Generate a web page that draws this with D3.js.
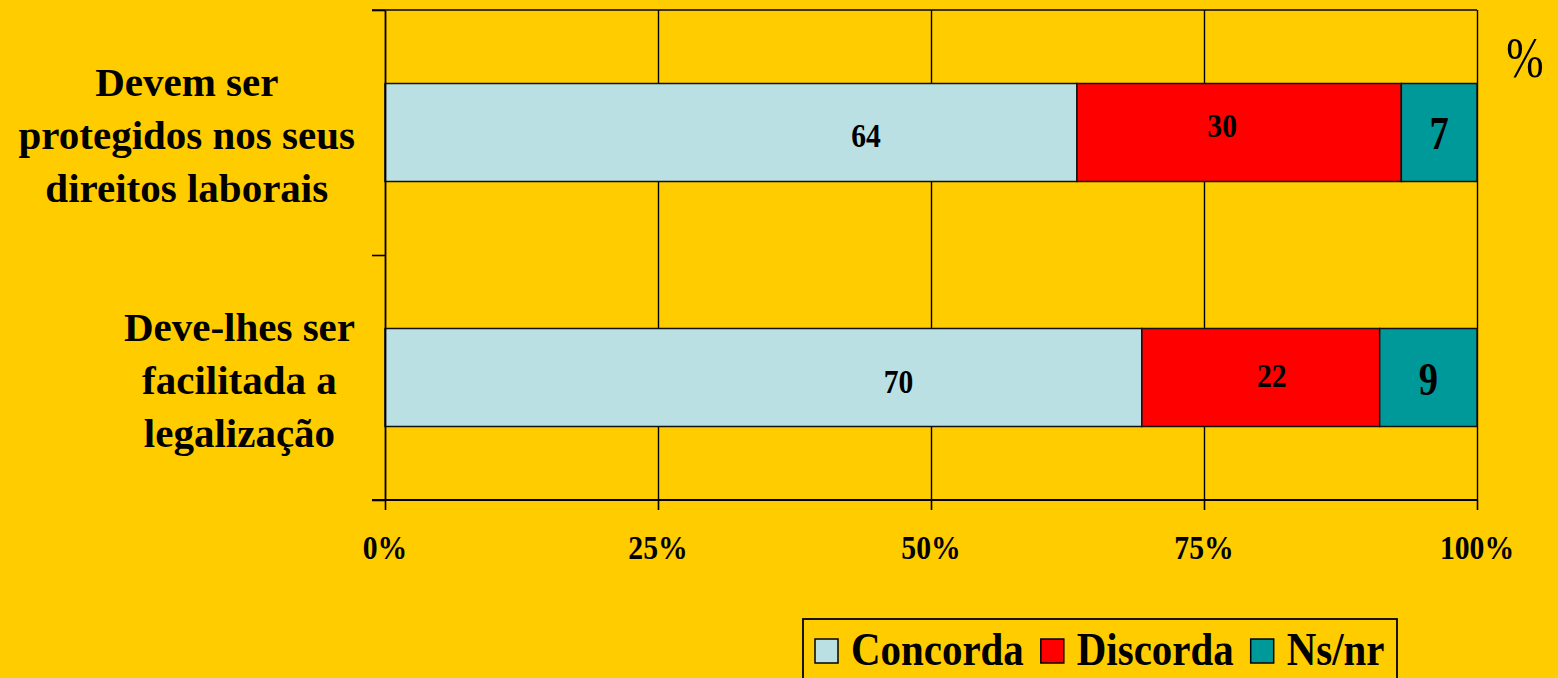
<!DOCTYPE html>
<html>
<head>
<meta charset="utf-8">
<script src="https://cdn.jsdelivr.net/npm/d3@7"></script>
<style>
    html, body { margin: 0; padding: 0; background: #FFCC00; }
    svg { display: block; }
    text { font-family: "Liberation Serif", "Times New Roman", serif; fill: #000; }
</style>
</head>
<body>
<svg id="chart" width="1558" height="678"></svg>
<script>
// Data
const categories = ["Devem ser protegidos nos seus direitos laborais", "Deve-lhes ser facilitada a legalização"];
const categoryLines = [
    ["Devem ser", "protegidos nos seus", "direitos laborais"],
    ["Deve-lhes ser", "facilitada a", "legalização"],
];
const seriesNames = ["Concorda", "Discorda", "Ns/nr"];
const concorda = [64, 70];
const discorda = [30, 22];
const nsnr = [7, 9];
const xTicks = [0, 0.25, 0.5, 0.75, 1];

const colors = ["#BBE0E3", "#FF0000", "#009999"];
// hand-placed data labels in the original (pixel nudges from segment centre)
const labelNudgeX = [[135, -17, 0], [135, 11, 0]];
const labelNudgeY = [[3, -7, 1], [4, -2, 2]];

const margin = { top: 10, right: 81, bottom: 178, left: 385 };
const W = 1558, H = 678;
const width = W - margin.left - margin.right;
const height = H - margin.top - margin.bottom;

const svg = d3.select("#chart");
const g = svg.append("g").attr("transform", `translate(${margin.left},${margin.top})`);

const x = d3.scaleLinear().domain([0, 1]).range([0, width]);
const y = d3.scaleBand().domain(categories).range([0, height]).paddingInner(0.6).paddingOuter(0.3);
const yEdge = d3.scaleLinear().domain([0, categories.length]).range([height, 0]);

// stacked, normalised to 100%
const rows = categories.map((c, i) => {
    const vals = [concorda[i], discorda[i], nsnr[i]];
    const total = d3.sum(vals);
    let acc = 0;
    return vals.map((v, j) => {
        const seg = { cat: c, row: i, series: j, value: v, x0: acc / total, x1: (acc + v) / total };
        acc += v;
        return seg;
    });
});
const segs = rows.flat();

// vertical grid
const xGrid = d3.axisBottom(x).tickValues(xTicks.slice(1)).tickFormat("").tickSize(-height).tickSizeOuter(0);
g.append("g").attr("class", "grid")
    .attr("transform", `translate(0,${height})`)
    .call(xGrid)
    .call((s) => s.select(".domain").remove())
    .selectAll("line").attr("stroke", "#000").attr("stroke-width", 1.4);

// top border
g.append("line")
    .attr("x1", -13).attr("x2", width).attr("y1", 0).attr("y2", 0)
    .attr("stroke", "#000").attr("stroke-width", 1.6);

// bars
g.append("g").selectAll("rect")
    .data(segs)
    .join("rect")
    .attr("x", (d) => x(d.x0))
    .attr("width", (d) => x(d.x1) - x(d.x0))
    .attr("y", (d) => y(d.cat))
    .attr("height", y.bandwidth())
    .attr("fill", (d) => colors[d.series])
    .attr("stroke", "#111")
    .attr("stroke-width", 1.5);

// x axis
const xAxis = d3.axisBottom(x).tickValues(xTicks).tickFormat("").tickSize(10).tickSizeOuter(0);
g.append("g")
    .attr("transform", `translate(0,${height})`)
    .call(xAxis)
    .call((s) => {
        s.select(".domain").attr("stroke", "#000").attr("stroke-width", 1.8).attr("d", `M-13,0H${width}`);
        s.selectAll("line").attr("stroke", "#000").attr("stroke-width", 1.6);
    });

// y axis
const yAxis = d3.axisLeft(yEdge).tickValues([0, 1, 2]).tickFormat("").tickSize(13).tickSizeOuter(0);
g.append("g")
    .call(yAxis)
    .call((s) => {
        s.select(".domain").attr("stroke", "#000").attr("stroke-width", 1.8);
        s.selectAll("line").attr("stroke", "#000").attr("stroke-width", 1.6);
    });

// x tick labels (the original type is narrow and tall)
g.append("g").selectAll("text")
    .data(xTicks)
    .join("text")
    .attr("transform", (d) => `translate(${x(d)},${height + 59}) scale(0.9,1)`)
    .attr("text-anchor", "middle")
    .attr("font-weight", "bold")
    .attr("font-size", 33)
    .text((d) => `${Math.round(d * 100)}%`);

// data labels
g.append("g").selectAll("text")
    .data(segs)
    .join("text")
    .attr("transform", (d) => {
        const cx = (x(d.x0) + x(d.x1)) / 2 + labelNudgeX[d.row][d.series];
        const cy = y(d.cat) + y.bandwidth() / 2 + labelNudgeY[d.row][d.series];
        return `translate(${cx},${cy}) scale(${d.series === 2 ? 0.82 : 0.87},1)`;
    })
    .attr("text-anchor", "middle")
    .attr("dominant-baseline", "central")
    .attr("font-weight", "bold")
    .attr("font-size", (d) => (d.series === 2 ? 47 : 34))
    .text((d) => d.value);

// category labels: lines centred inside a block that hugs the axis
const catG = g.append("g");
categoryLines.forEach((lines, i) => {
    const cy = y(categories[i]) + y.bandwidth() / 2;
    const t = catG.append("text")
        .attr("font-weight", "bold")
        .attr("font-size", 41)
        .attr("text-anchor", "middle");
    lines.forEach((ln, k) => {
        t.append("tspan").attr("y", cy + 16 + (k - 1) * 53).text(ln);
    });
    const maxW = d3.max(t.selectAll("tspan").nodes(), (n) => n.getComputedTextLength());
    const cx = -30 - maxW / 2;
    t.selectAll("tspan").attr("x", cx);
});

// percent sign
svg.append("text")
    .attr("transform", `translate(1525,77) scale(0.8,1)`)
    .attr("text-anchor", "middle")
    .attr("font-size", 56)
    .text("%");

// legend
const legend = svg.append("g");
legend.append("rect")
    .attr("x", 803).attr("y", 619)
    .attr("width", 594).attr("height", 80)
    .attr("fill", "none").attr("stroke", "#000").attr("stroke-width", 1.8);
let lx = 815;
seriesNames.forEach((name, i) => {
    legend.append("rect")
        .attr("x", lx).attr("y", 639)
        .attr("width", 23).attr("height", 24)
        .attr("fill", colors[i]).attr("stroke", "#000").attr("stroke-width", 1.5);
    const t = legend.append("text")
        .attr("transform", `translate(${lx + 36},665) scale(0.89,1)`)
        .attr("font-weight", "bold")
        .attr("font-size", 46)
        .text(name);
    lx += 36 + t.node().getComputedTextLength() * 0.89 + 17;
});
</script>
</body>
</html>
